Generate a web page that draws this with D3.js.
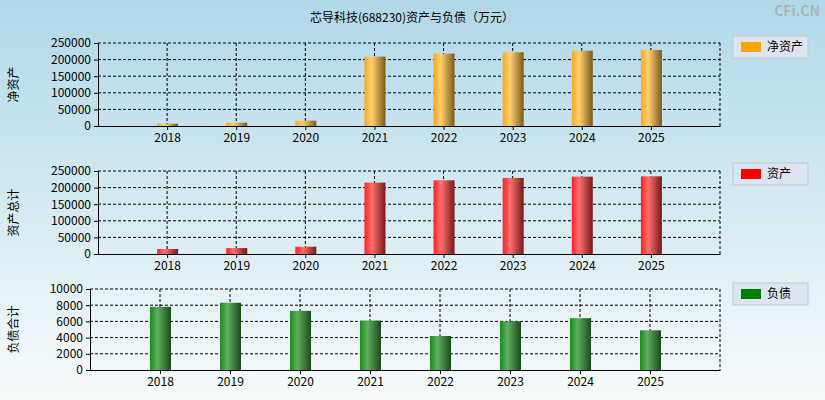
<!DOCTYPE html>
<meta charset="utf-8">
<style>
body { margin: 0; }
text { font-family: "Noto Sans CJK SC", "DejaVu Sans", sans-serif; }
</style>
<body>
<script src="https://d3js.org/d3.v7.min.js"></script>
<script>
var years = ["2018", "2019", "2020", "2021", "2022", "2023", "2024", "2025"];
var netAssets = [7000, 10000, 16000, 209000, 218000, 222000, 227000, 229000];
var totalAssets = [15000, 18000, 22000, 215000, 222000, 229000, 233000, 234000];
var liabilities = [7800, 8300, 7300, 6100, 4200, 6000, 6400, 4900];

var W = 825, H = 400;
var svg = d3.select("body").append("svg").attr("width", W).attr("height", H);
var defs = svg.append("defs");

var bg = defs.append("linearGradient").attr("id", "bg").attr("x1", 0).attr("y1", 0).attr("x2", 0).attr("y2", 1);
bg.append("stop").attr("offset", "0%").attr("stop-color", "#b0d8e8");
bg.append("stop").attr("offset", "100%").attr("stop-color", "#f8fbfc");
svg.append("rect").attr("width", W).attr("height", H).attr("fill", "url(#bg)");

svg.append("text").attr("x", 412).attr("y", 22).attr("text-anchor", "middle")
  .attr("font-size", 12).text("芯导科技(688230)资产与负债（万元）");
svg.append("text").attr("x", 820).attr("y", 16).attr("text-anchor", "end")
  .attr("font-size", 14).attr("fill", "#a8b4bc").attr("font-weight", "bold").text("CFi.CN");

function grad(id, light, mid, dark) {
  var g = defs.append("linearGradient").attr("id", id);
  g.append("stop").attr("offset", "0%").attr("stop-color", mid);
  g.append("stop").attr("offset", "35%").attr("stop-color", light);
  g.append("stop").attr("offset", "100%").attr("stop-color", dark);
}
grad("gOrange", "#ffd070", "#f8a820", "#7a5a18");
grad("gRed", "#ff7070", "#ff2020", "#781818");
grad("gGreen", "#60b060", "#1a8a1a", "#1a4a1a");

var panels = [
  {data: netAssets, left: 98, top: 43, bottom: 126, max: 250000, step: 50000, label: "净资产", legend: "净资产", color: "#ffa500", fill: "url(#gOrange)", ly: 36},
  {data: totalAssets, left: 98, top: 171, bottom: 254, max: 250000, step: 50000, label: "资产总计", legend: "资产", color: "#ff0000", fill: "url(#gRed)", ly: 163},
  {data: liabilities, left: 90, top: 289, bottom: 370, max: 10000, step: 2000, label: "负债合计", legend: "负债", color: "#008000", fill: "url(#gGreen)", ly: 283}
];

panels.forEach(function(p) {
  var right = 720;
  var x = d3.scaleLinear().domain([0, 9]).range([p.left, right]);
  var y = d3.scaleLinear().domain([0, p.max]).range([p.bottom, p.top]);
  var g = svg.append("g");
  var ticks = d3.range(0, p.max + 1, p.step);

  g.selectAll(".hg").data(ticks.slice(1)).enter().append("line")
    .attr("x1", p.left).attr("x2", right).attr("y1", y).attr("y2", y)
    .attr("stroke", "#000").attr("stroke-dasharray", "3,2");
  g.selectAll(".vg").data(years).enter().append("line")
    .attr("x1", (d, i) => x(i + 1)).attr("x2", (d, i) => x(i + 1))
    .attr("y1", p.top).attr("y2", p.bottom)
    .attr("stroke", "#000").attr("stroke-dasharray", "3,2");
  g.append("line").attr("x1", right).attr("x2", right).attr("y1", p.top).attr("y2", p.bottom)
    .attr("stroke", "#000").attr("stroke-dasharray", "3,2");

  g.selectAll(".bar").data(p.data).enter().append("rect")
    .attr("x", (d, i) => x(i + 1) - 10).attr("width", 21)
    .attr("y", d => y(d)).attr("height", d => p.bottom - y(d))
    .attr("fill", p.fill);

  g.append("g").attr("transform", "translate(" + p.left + ",0)")
    .call(d3.axisLeft(y).tickValues(ticks).tickFormat(d3.format("d")).tickSize(4).tickSizeOuter(0))
    .call(a => a.select(".domain").attr("stroke", "#000"))
    .call(a => a.selectAll("text").attr("font-size", 12).attr("fill", "#000").attr("font-family", "DejaVu Sans, sans-serif"));
  g.append("g").attr("transform", "translate(0," + p.bottom + ")")
    .call(d3.axisBottom(x).tickValues(d3.range(1, 9)).tickFormat(i => years[i - 1]).tickSize(4).tickSizeOuter(0))
    .call(a => a.select(".domain").attr("stroke", "#000"))
    .call(a => a.selectAll("text").attr("font-size", 12).attr("fill", "#000").attr("font-family", "DejaVu Sans, sans-serif"));

  var cy = (p.top + p.bottom) / 2;
  svg.append("text").attr("transform", "translate(18," + cy + ") rotate(-90)")
    .attr("text-anchor", "middle").attr("font-size", 12).text(p.label);

  var lg = svg.append("g").attr("transform", "translate(733," + p.ly + ")");
  lg.append("rect").attr("width", 75).attr("height", 22).attr("fill", "#dde6f0").attr("stroke", "#c0c8d0");
  lg.append("rect").attr("x", 8).attr("y", 6).attr("width", 20).attr("height", 10).attr("fill", p.color);
  lg.append("text").attr("x", 34).attr("y", 15).attr("font-size", 12).text(p.legend);
});
</script>
</body>
